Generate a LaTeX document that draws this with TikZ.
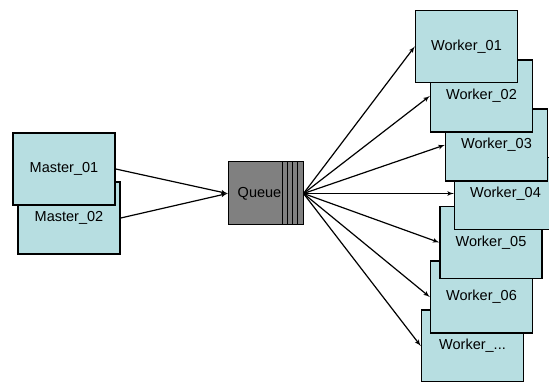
\documentclass[tikz,border=0pt]{standalone}
\usepackage{fontspec}
\setmainfont{Liberation Sans}
\usepackage{tikz}
\usetikzlibrary{arrows,positioning}
\definecolor{boxcyan}{RGB}{183,222,225}
\tikzstyle{arrow} = [draw, -latex', line width=1.2pt]
\tikzstyle{box} = [rectangle, draw=black, line width=1.5pt, fill=boxcyan,
  minimum width=102pt, minimum height=72pt, inner sep=0pt,
  font={\fontsize{14.5}{16}\selectfont}]
\tikzstyle{queuebox} = [rectangle, draw=black, line width=1pt, fill=black!50,
  minimum width=75pt, minimum height=63pt, inner sep=0pt]
\tikzstyle{stripe} = [draw, line width=1pt]
\tikzstyle{lbl} = [inner sep=0pt, font={\fontsize{14.5}{16}\selectfont}]

\begin{document}
\begin{tikzpicture}[x=1pt, y=-1pt]
    \useasboundingbox (0,0) rectangle (549,382);
    \clip (0,0) rectangle (549,382);
    % masters
    \node [box] (m02) at (69,218) {Master\_02};
    \node [box] (m01) at (64,169) {Master\_01};
    % queue
    \node [queuebox] (queue) at (265.5,193.5) {};
    \path [stripe] (282.5,162) -- (282.5,225);
    \path [stripe] (287.5,162) -- (287.5,225);
    \path [stripe] (292.5,162) -- (292.5,225);
    \path [stripe] (297.5,162) -- (297.5,225);
    \node [lbl] (qlabel) at (259.5,193.5) {Queue};
    % workers, back to front
    \node [box] (w07) at (472.5,346) {Worker\_...};
    \node [box] (w06) at (481.5,297) {Worker\_06};
    \node [box] (w05) at (491,242.5) {Worker\_05};
    \node [box] (w04) at (505.5,193.5) {Worker\_04};
    \node [box] (w03) at (496.5,145) {Worker\_03};
    \node [box] (w02) at (481.5,96) {Worker\_02};
    \node [box] (w01) at (466.5,46.5) {Worker\_01};
    \path [arrow] (m01.east) -- (queue.west);
    \path [arrow] (m02.east) -- (queue.west);
    \path [arrow] (queue.east) -- (w01.west);
    \path [arrow] (queue.east) -- (w02.west);
    \path [arrow] (queue.east) -- (w03.west);
    \path [arrow] (queue.east) -- (w04.west);
    \path [arrow] (queue.east) -- (w05.west);
    \path [arrow] (queue.east) -- (w06.west);
    \path [arrow] (queue.east) -- (w07.west);
\end{tikzpicture}
\end{document}
